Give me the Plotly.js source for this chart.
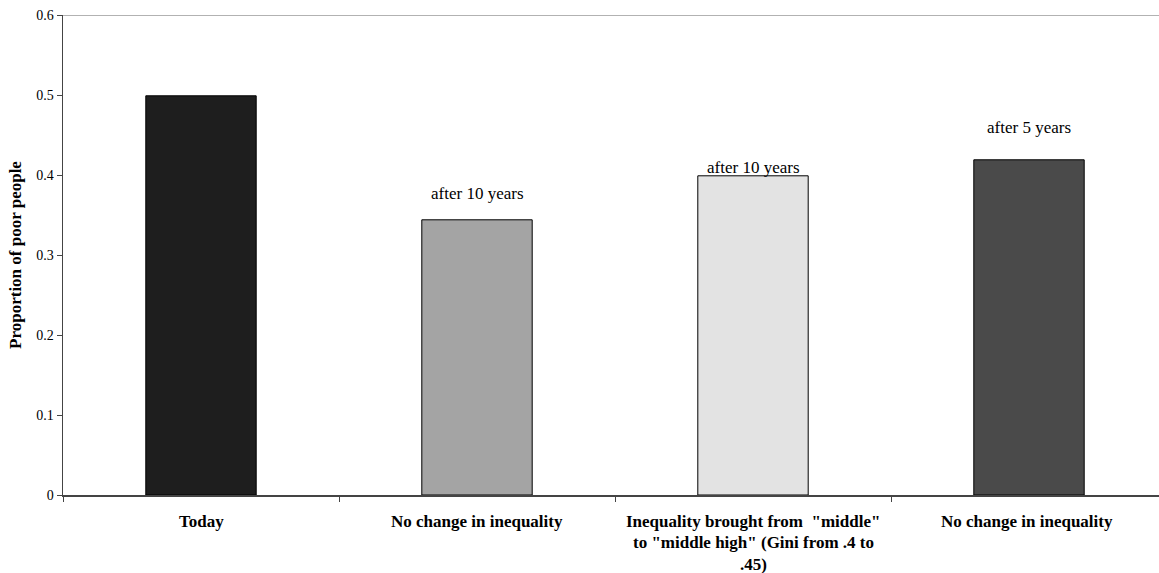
<!DOCTYPE html>
<html>
<head>
<meta charset="utf-8">
<script src="https://cdn.plot.ly/plotly-3.0.1.min.js"></script>
<style>html,body{margin:0;padding:0;background:#fff;overflow:hidden}#chart{width:1159px;height:573px}</style>
</head>
<body>
<div id="chart"></div>
<script>
var categories = ["Today", "No change in inequality", "Inequality brought from  \"middle\"<br>to \"middle high\" (Gini from .4 to<br>.45)", "No change in inequality "];
var values = [0.499, 0.344, 0.399, 0.419];
var barColors = ["#1e1e1e", "#a4a4a4", "#e3e3e3", "#4a4a4a"];
var barNotes = ["", "after 10 years", "after 10 years", "after 5 years"];
var noteLevels = [null, 0.3775, 0.41, 0.46];
var yTicks = [0, 0.1, 0.2, 0.3, 0.4, 0.5, 0.6];

var FONT = "'Liberation Serif', 'Times New Roman', serif";
var xIdx = categories.map(function (c, i) { return i; });

var trace = {
  type: "bar",
  x: xIdx,
  y: values,
  width: 0.4,
  marker: { color: barColors, line: { color: "#000", width: 1 } },
  hoverinfo: "none"
};

var annotations = [];
categories.forEach(function (c, i) {
  c.split("<br>").forEach(function (line, k) {
    annotations.push({
      x: i, y: 0, xref: "x", yref: "y",
      text: line, showarrow: false,
      xanchor: "center", yanchor: "middle",
      yshift: -(26 + k * 21.5),
      font: { family: FONT, size: 17, color: "#000", weight: "bold" }
    });
  });
});
barNotes.forEach(function (t, i) {
  if (!t) return;
  annotations.push({
    x: i, y: noteLevels[i], xref: "x", yref: "y",
    text: t, showarrow: false, xanchor: "center", yanchor: "middle",
    font: { family: FONT, size: 17, color: "#000" }
  });
});

var layout = {
  width: 1159, height: 573,
  margin: { l: 63, r: 0, t: 15, b: 78, pad: 0 },
  paper_bgcolor: "#fff", plot_bgcolor: "#fff",
  showlegend: false,
  font: { family: FONT, color: "#000", size: 13 },
  xaxis: {
    range: [-0.5, 3.5 - 8 / 276],
    tickvals: [-0.5, 0.5, 1.5, 2.5, 3.5],
    showticklabels: false,
    ticks: "outside", ticklen: 5, tickcolor: "#444", tickwidth: 1,
    showgrid: false, zeroline: false,
    showline: true, linecolor: "#444", linewidth: 1.5
  },
  yaxis: {
    range: [0, 0.6],
    tickvals: yTicks,
    ticktext: yTicks.map(function (v) { return String(v); }),
    ticks: "outside", ticklen: 5, tickcolor: "#444", tickwidth: 1,
    tickfont: { family: FONT, size: 14, color: "#000" },
    showgrid: false, zeroline: false,
    showline: true, linecolor: "#444", linewidth: 1.5,
    title: { text: "Proportion of poor people", standoff: 10,
             font: { family: FONT, size: 17, color: "#000", weight: "bold" } }
  },
  shapes: [{
    type: "line", xref: "paper", yref: "y", x0: 0, x1: 1, y0: 0.6, y1: 0.6,
    line: { color: "#999", width: 1.5 }
  }],
  annotations: annotations
};

Plotly.newPlot("chart", [trace], layout, { staticPlot: true, displayModeBar: false });
</script>
</body>
</html>
